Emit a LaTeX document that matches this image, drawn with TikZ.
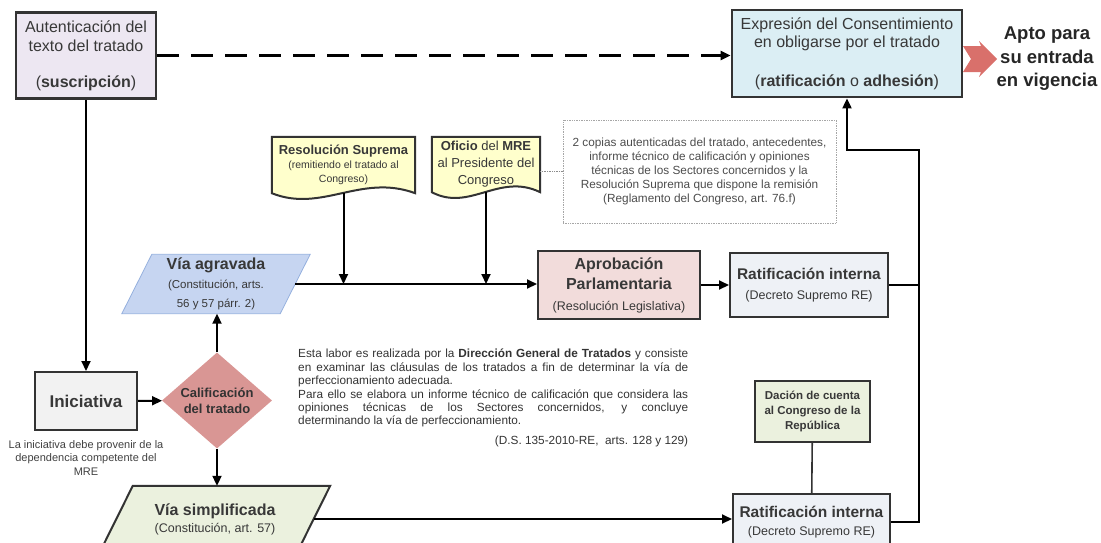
\documentclass[tikz,border=0pt]{standalone}
\usepackage{fontspec}
\setmainfont{Liberation Sans}
\usepackage{tikz}
\usetikzlibrary{shapes,arrows.meta}
\usetikzlibrary{positioning,calc}
\usetikzlibrary{backgrounds}

\definecolor{lila}{HTML}{EDE7F2}
\definecolor{celeste}{HTML}{DBEEF4}
\definecolor{amarillo}{HTML}{FFFFCC}
\definecolor{azulvia}{HTML}{C6D5F1}
\definecolor{bordevia}{HTML}{95B0DE}
\definecolor{rosa}{HTML}{F2DCDB}
\definecolor{gris}{HTML}{F2F2F2}
\definecolor{grisazul}{HTML}{EEF1F6}
\definecolor{rojo}{HTML}{D99694}
\definecolor{verde}{HTML}{EBF1DE}
\definecolor{flecha}{HTML}{D9706B}
\definecolor{texto}{HTML}{383838}

\newcommand{\fs}[2]{\fontsize{#1}{#2}\selectfont}

\begin{document}
\begin{tikzpicture}[x=1pt,y=-1pt,
  every node/.style={align=center,text=texto,inner sep=0pt},
  caja/.style={draw=black!80,line width=2pt},
  flujo/.style={line width=2pt,-{Triangle[length=10pt,width=9pt]}},
  linea/.style={line width=2pt}]

  \useasboundingbox (0,0) rectangle (1101,542);

  % top row
  \node[caja,fill=lila,line width=2.8pt,minimum width=140pt,minimum height=86pt,
    font=\fs{16}{19}] (aut) at (86,55.5)
    {Autenticación del\\texto del tratado\\[17pt](\textbf{suscripción})};
  \node[caja,fill=celeste,line width=2.8pt,minimum width=230pt,minimum height=87pt,
    font=\fs{16}{18.5}] (expr) at (847,53.5)
    {Expresión del Consentimiento\\en obligarse por el tratado\\[20pt](\textbf{ratificación} o \textbf{adhesión})};
  \node[font=\bfseries\fs{18.5}{23.5},text=black!85] (apto) at (1047,59)
    {Apto para\\su entrada\\en vigencia};
  \fill[flecha] (963,46) -- (981,46) -- (979,41) -- (997,59) -- (979,77)
    -- (981,72) -- (963,72) -- (971,59) -- cycle;

  % documents
  \node[minimum width=143pt,minimum height=56pt,font=\fs{10.5}{14}] (rs) at (343.5,165)
    {{\bfseries\fs{13}{15}Resolución Suprema}\\(remitiendo el tratado al\\Congreso)};
  \node[minimum width=108pt,minimum height=55pt,font=\fs{13}{17}] (of) at (486,164.5)
    {\textbf{Oficio} del \textbf{MRE}\\al Presidente del\\Congreso};
  \node[draw=black!35,densely dotted,line width=0.7pt,minimum width=273pt,
    minimum height=103pt,font=\fs{11.8}{14.2},text=black!70] (nota) at (699.5,171.5)
    {2 copias autenticadas del tratado, antecedentes,\\informe técnico de calificación y opiniones\\técnicas de los Sectores concernidos y la\\Resolución Suprema que dispone la remisión\\(Reglamento del Congreso, art. 76.f)};

  % vias (parallelograms drawn behind)
  \node[minimum width=158pt,minimum height=59pt,font=\fs{11.5}{19}] (agrav) at (216,284)
    {{\bfseries\fs{16}{19}Vía agravada}\\(Constitución, arts.\\56 y 57 párr. 2)};
  \node[minimum width=197pt,minimum height=66pt,font=\fs{12.5}{17}] (simp) at (215,519)
    {{\bfseries\fs{16}{17}Vía simplificada}\\(Constitución, art. 57)};

  \begin{scope}[on background layer]
    \foreach \d in {rs,of}
      \filldraw[fill=amarillo,draw=black!80,line width=2pt]
        (\d.south west) -- (\d.north west) -- (\d.north east) -- (\d.south east)
        .. controls ($(\d.south west)!0.62!(\d.south east)+(0,-20)$)
        and ($(\d.south west)!0.35!(\d.south east)+(0,20)$) .. (\d.south west) -- cycle;
    \filldraw[fill=azulvia,draw=bordevia,line width=0.8pt]
      ($(agrav.north west)+(15,0)$) -- ($(agrav.north east)+(15,0)$)
      -- ($(agrav.south east)+(-15,0)$) -- ($(agrav.south west)+(-15,0)$) -- cycle;
    \filldraw[fill=verde,draw=black!80,line width=2pt]
      ($(simp.north west)+(16.5,0)$) -- ($(simp.north east)+(16.5,0)$)
      -- ($(simp.south east)+(-16.5,0)$) -- ($(simp.south west)+(-16.5,0)$) -- cycle;
  \end{scope}

  \node[caja,fill=rosa,minimum width=162pt,minimum height=68pt,font=\fs{16}{20.5}] (aprob) at (619,285)
    {\textbf{Aprobación}\\\textbf{Parlamentaria}\\{\fs{12.5}{15}(Resolución Legislativa)}};
  \node[caja,fill=grisazul,minimum width=158pt,minimum height=64pt,font=\fs{15.5}{20}] (rat1) at (809,285)
    {\textbf{Ratificación interna}\\{\fs{12.5}{15}(Decreto Supremo RE)}};

  % iniciativa y calificacion
  \node[caja,fill=gris,minimum width=102pt,minimum height=58pt,font=\bfseries\fs{17}{20}] (inic) at (86,401)
    {Iniciativa};
  \node[below=9pt of inic,font=\fs{11}{13.5},text=black!75] (nota2)
    {La iniciativa debe provenir de la\\dependencia competente del\\MRE};
  \node[diamond,aspect=1.2,fill=rojo,minimum width=110pt,minimum height=96pt,
    font=\bfseries\fs{13}{16},text=black!80] (calif) at (217,400.5)
    {Calificación\\del tratado};
  \node[anchor=north west,align=left,font=\fs{11.8}{13.4},text=black!80] (desc) at (298,349)
    {\makebox[390pt][s]{Esta labor es realizada por la \textbf{Dirección General de Tratados} y consiste}\\
     \makebox[390pt][s]{en examinar las cláusulas de los tratados a fin de determinar la vía de}\\
     perfeccionamiento adecuada.\\
     \makebox[390pt][s]{Para ello se elabora un informe técnico de calificación que considera las}\\
     \makebox[390pt][s]{opiniones técnicas de los Sectores concernidos, y concluye}\\
     determinando la vía de perfeccionamiento.\\[6pt]
     \makebox[390pt][r]{(D.S. 135-2010-RE,\ \ arts. 128 y 129)}};

  % lower right
  \node[caja,fill=verde,minimum width=115pt,minimum height=61pt,font=\bfseries\fs{11.5}{15}] (dacion) at (812.5,411.5)
    {Dación de cuenta\\al Congreso de la\\República};
  \node[caja,fill=grisazul,minimum width=157pt,minimum height=56pt,font=\fs{15.5}{18}] (rat2) at (811.5,522)
    {\textbf{Ratificación interna}\\{\fs{12.5}{15}(Decreto Supremo RE)}};

  \coordinate (codo) at (919,150);

  % connectors
  \draw[flujo,line width=3pt,dash pattern=on 22pt off 12pt] (aut.east) -- (aut.east -| expr.west);
  \draw[flujo] (aut.south) -- (inic.north);
  \draw[flujo] (inic) -- (calif);
  \draw[flujo] (calif.north) -- (calif.north |- agrav.south);
  \draw[flujo] (calif.south) -- (calif.south |- simp.north);
  \draw[flujo] (agrav.east) -- (agrav.east -| aprob.west);
  \draw[flujo] (rs.south) -- (rs.south |- agrav.east);
  \draw[flujo] (of.south) -- (of.south |- agrav.east);
  \draw[black!45,densely dotted,line width=0.7pt] (of.east |- nota.west) -- (nota.west);
  \draw[flujo] (aprob) -- (rat1);
  \draw[linea] (rat1.east) -- (rat1.east -| codo);
  \draw[flujo] (simp.east) -- (simp.east -| rat2.west);
  \draw[black!80,line width=1.6pt] (dacion) -- (rat2);
  \draw[flujo] (rat2.east) -| (codo) -| (expr.south);

\end{tikzpicture}
\end{document}
